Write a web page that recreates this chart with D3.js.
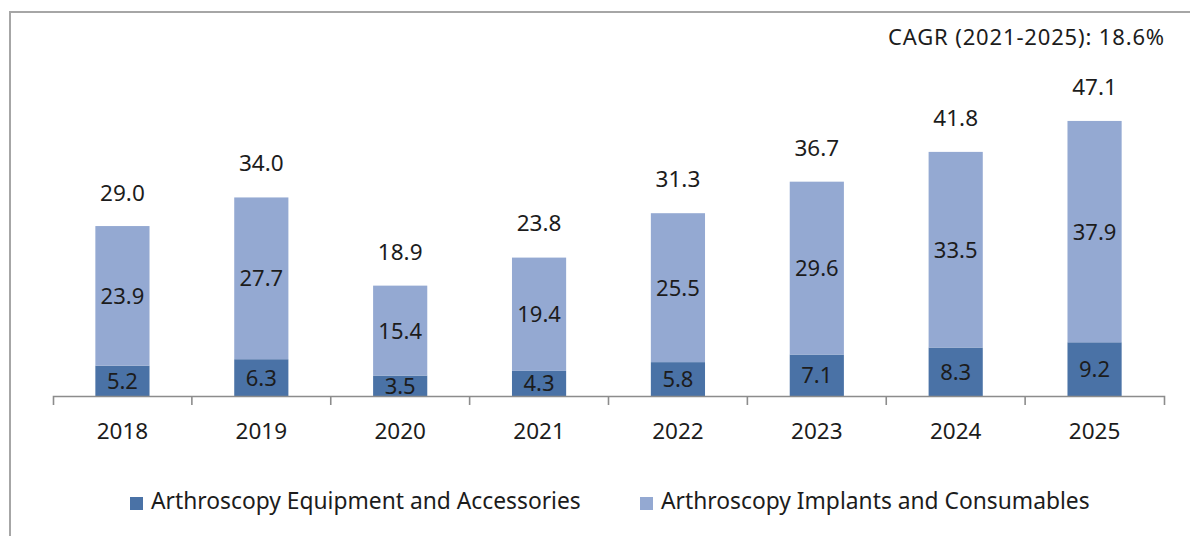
<!DOCTYPE html>
<html>
<head>
<meta charset="utf-8">
<script src="https://cdn.jsdelivr.net/npm/d3@7"></script>
<style>
  html, body { margin: 0; padding: 0; background: #fff; }
  svg { display: block; font-family: "Noto Sans", "Open Sans", sans-serif; }
</style>
</head>
<body>
<svg id="chart" width="1190" height="536"></svg>
<script>
// Arthroscopy market by segment, 2018–2025
const years = ["2018", "2019", "2020", "2021", "2022", "2023", "2024", "2025"];
const equipment = [5.2, 6.3, 3.5, 4.3, 5.8, 7.1, 8.3, 9.2];
const implants = [23.9, 27.7, 15.4, 19.4, 25.5, 29.6, 33.5, 37.9];
const totals = [29.0, 34.0, 18.9, 23.8, 31.3, 36.7, 41.8, 47.1];
const seriesNames = ["Arthroscopy Equipment and Accessories", "Arthroscopy Implants and Consumables"];
const cagrNote = "CAGR (2021-2025): 18.6%";

const colors = ["#4A72A6", "#94A9D2"];
const textColor = "#1c1c1c";

const svg = d3.select("#chart");

// outer frame
svg.append("rect")
  .attr("x", 10).attr("y", 12)
  .attr("width", 1300).attr("height", 700)
  .attr("fill", "none")
  .attr("stroke", "#a6a6a6")
  .attr("stroke-width", 2);

const x = d3.scaleBand()
  .domain(years)
  .range([53, 1164])
  .paddingInner(0.61)
  .paddingOuter(0.305);

const y = d3.scaleLinear()
  .domain([0, 50])
  .range([396, 104]);

const rows = years.map((yr, i) => ({ year: yr, equipment: equipment[i], implants: implants[i], total: totals[i] }));
const stack = d3.stack().keys(["equipment", "implants"]);
const layers = stack(rows);

// stacked bars
const g = svg.append("g");
layers.forEach((layer, li) => {
  g.selectAll(null)
    .data(layer)
    .join("rect")
    .attr("x", d => x(d.data.year))
    .attr("y", d => y(d[1]))
    .attr("width", x.bandwidth())
    .attr("height", d => y(d[0]) - y(d[1]))
    .attr("fill", colors[li]);

  // segment value labels
  g.selectAll(null)
    .data(layer)
    .join("text")
    .attr("x", d => x(d.data.year) + x.bandwidth() / 2)
    .attr("y", d => (y(d[0]) + y(d[1])) / 2)
    .attr("dy", "0.36em")
    .attr("text-anchor", "middle")
    .attr("font-size", 22)
    .attr("fill", textColor)
    .text(d => (d[1] - d[0]).toFixed(1));
});

// total labels above each bar
g.selectAll(null)
  .data(rows)
  .join("text")
  .attr("x", d => x(d.year) + x.bandwidth() / 2)
  .attr("y", d => y(d.total) - 26)
  .attr("text-anchor", "middle")
  .attr("font-size", 22.5)
  .attr("fill", textColor)
  .text(d => d.total.toFixed(1));

// category axis: ticks sit on category boundaries
const axis = svg.append("g")
  .attr("transform", "translate(0,396)")
  .call(d3.axisBottom(x).tickSize(0).tickSizeOuter(9).tickPadding(0));
axis.select(".domain").attr("stroke", "#8c8c8c").attr("stroke-width", 1.6);
axis.selectAll(".tick text")
  .attr("y", 43)
  .attr("dy", 0)
  .attr("font-size", 22.5)
  .attr("font-family", "Noto Sans, sans-serif")
  .attr("fill", textColor);

const step = x.step();
const boundaries = d3.range(1, years.length).map(i => x.range()[0] + i * step);
axis.selectAll(".bound")
  .data(boundaries)
  .join("line")
  .attr("class", "bound")
  .attr("x1", d => d).attr("x2", d => d)
  .attr("y1", 0).attr("y2", 9)
  .attr("stroke", "#8c8c8c")
  .attr("stroke-width", 1.6);

// CAGR note
svg.append("text")
  .attr("x", 1165)
  .attr("y", 45)
  .attr("text-anchor", "end")
  .attr("font-size", 22)
  .attr("letter-spacing", 0.85)
  .attr("fill", textColor)
  .text(cagrNote);

// legend
const legendPos = [130, 640];
const legend = svg.append("g");
seriesNames.forEach((name, i) => {
  legend.append("rect")
    .attr("x", legendPos[i]).attr("y", 497)
    .attr("width", 13).attr("height", 13)
    .attr("fill", colors[i]);
  legend.append("text")
    .attr("x", legendPos[i] + 21)
    .attr("y", 509)
    .attr("font-size", 22.8)
    .attr("fill", textColor)
    .text(name);
});
</script>
</body>
</html>
